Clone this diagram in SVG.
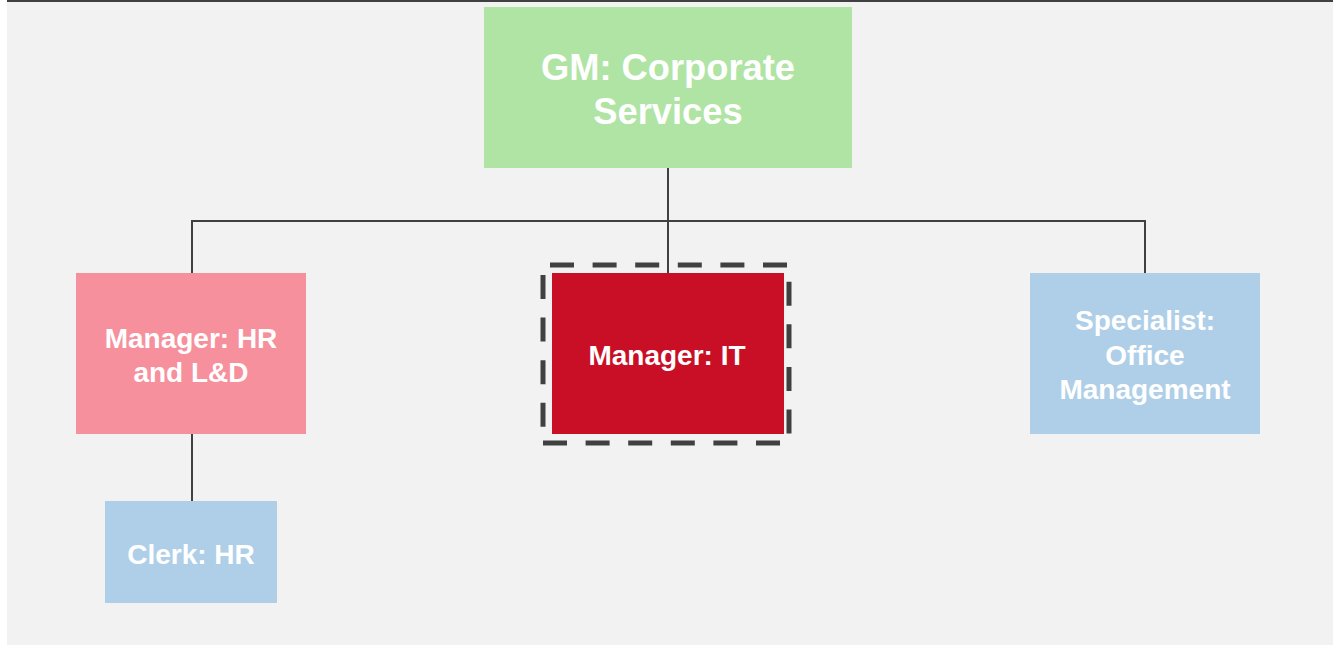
<svg xmlns="http://www.w3.org/2000/svg" width="1333" height="645" viewBox="0 0 1333 645">
  <style>
    .lbl { font-family: "Liberation Sans", Arial, sans-serif; font-weight: bold; fill: #FFFFFF; text-anchor: middle; }
    .big { font-size: 36.3px; }
    .mid { font-size: 28px; }
    .wire { fill: none; stroke: #404040; stroke-width: 2; }
    .dash { fill: none; stroke: #404040; stroke-width: 5; stroke-dasharray: 24 18.6; }
  </style>
  <rect x="0" y="0" width="1333" height="645" fill="#FFFFFF"/>
  <rect x="7" y="2" width="1326" height="643" fill="#F2F2F2"/>
  <rect x="7" y="0" width="1326" height="2" fill="#404040"/>

  <g id="connectors">
    <line class="wire" x1="668" y1="168" x2="668" y2="273"/>
    <polyline class="wire" points="192,273 192,221 1145,221 1145,273"/>
    <line class="wire" x1="192" y1="434" x2="192" y2="501"/>
  </g>

  <g id="gm-corporate-services">
    <rect x="484" y="7" width="368" height="161" fill="#B0E4A5"/>
    <text class="lbl big" x="668" y="80">GM: Corporate</text>
    <text class="lbl big" x="668" y="124">Services</text>
  </g>

  <g id="manager-hr-ld">
    <rect x="76" y="273" width="230" height="161" fill="#F7909D"/>
    <text class="lbl mid" x="191" y="348">Manager: HR</text>
    <text class="lbl mid" x="191" y="382">and L&amp;D</text>
  </g>

  <g id="manager-it">
    <rect x="552" y="273" width="232" height="161" fill="#C80F26"/>
    <!-- dashed highlight frame, one segment per side -->
    <line class="dash" x1="550" y1="265" x2="788" y2="265"/>
    <line class="dash" x1="789" y1="281.7" x2="789" y2="434"/>
    <line class="dash" x1="543" y1="443" x2="781" y2="443"/>
    <line class="dash" x1="543" y1="275" x2="543" y2="428"/>
    <text class="lbl mid" x="667" y="365">Manager: IT</text>
  </g>

  <g id="specialist-office-management">
    <rect x="1030" y="273" width="230" height="161" fill="#AFCFE8"/>
    <text class="lbl mid" x="1145" y="330">Specialist:</text>
    <text class="lbl mid" x="1145" y="365">Office</text>
    <text class="lbl mid" x="1145" y="399">Management</text>
  </g>

  <g id="clerk-hr">
    <rect x="105" y="501" width="172" height="102" fill="#AFCFE8"/>
    <text class="lbl mid" x="191" y="564">Clerk: HR</text>
  </g>
</svg>
